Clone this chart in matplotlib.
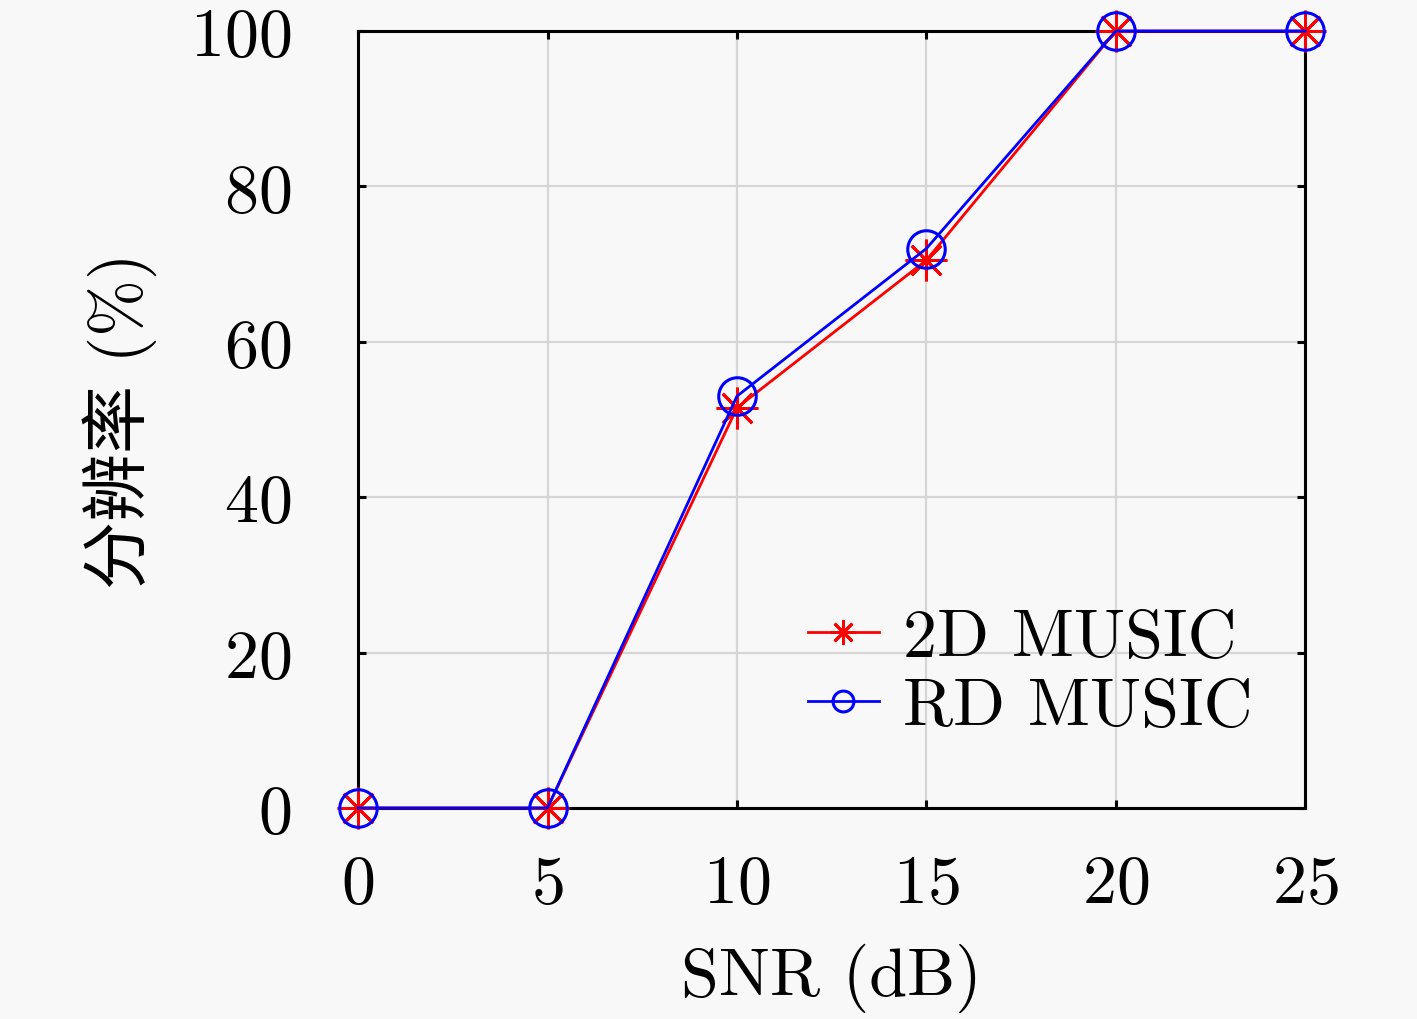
import matplotlib
matplotlib.use('Agg')
import matplotlib.pyplot as plt
from matplotlib.lines import Line2D

snr = [0, 5, 10, 15, 20, 25]
music_2d = [0, 0, 51.5, 70.5, 100, 100]
music_rd = [0, 0, 53, 72, 100, 100]
xticks = [0, 5, 10, 15, 20, 25]
yticks = [0, 20, 40, 60, 80, 100]

plt.rcParams['font.family'] = ['cmr10', 'Noto Sans CJK SC']
plt.rcParams['axes.formatter.use_mathtext'] = True

bg = '#f8f8f8'
fig = plt.figure(figsize=(14.17, 10.20), dpi=100, facecolor=bg)
ax = fig.add_axes([0.2527, 0.2069, 0.6684, 0.7617], facecolor=bg)

star = (8, 2, 0)
ax.plot(snr, music_2d, color='red', lw=2.0, marker=star, ms=30, mew=2.0, mfc='none',
        zorder=6, clip_on=False)
ax.plot(snr, music_rd, color='blue', lw=2.0, marker='o', ms=27, mew=2.2, mfc='none',
        zorder=7, clip_on=False)

ax.set_xlim(0, 25)
ax.set_ylim(0, 100)
ax.set_xticks(xticks)
ax.set_yticks(yticks)
ax.grid(True, color='#d6d6d6', lw=1.6)
ax.set_axisbelow(True)
for s in ax.spines.values():
    s.set_linewidth(2.2)
    s.set_zorder(5)
ax.tick_params(direction='in', length=6, width=2.2, top=True, right=True, labelsize=49)
ax.tick_params(axis='x', pad=33)
ax.tick_params(axis='y', pad=48)

ax.set_xlabel('SNR (dB)', fontsize=49, labelpad=20)
ax.set_ylabel('分辨率 (%)', fontsize=49, labelpad=24)

handles = [Line2D([], [], color='red', lw=2.0, marker=star, ms=18, mew=2.0),
           Line2D([], [], color='blue', lw=2.0, marker='o', ms=15, mew=2.2, mfc='none')]
ax.legend(handles, ['2D MUSIC', 'RD MUSIC'], loc='lower right', bbox_to_anchor=(0.973, 0.055),
          frameon=False, fontsize=49, handlelength=1.05, handletextpad=0.35, labelspacing=0.12,
          borderaxespad=0)

fig.savefig('out.png', dpi=100, facecolor=bg)
